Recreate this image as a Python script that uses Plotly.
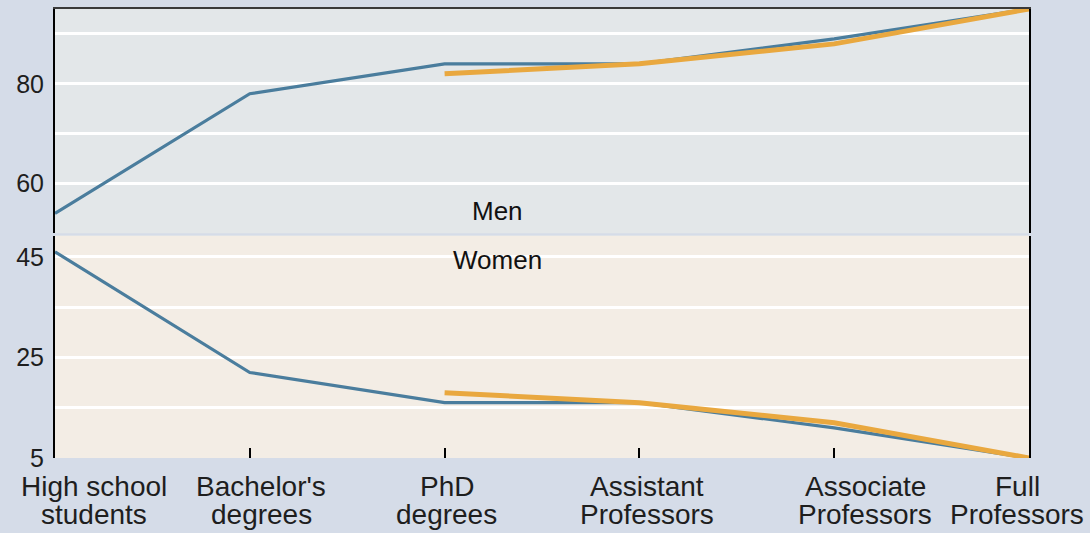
import plotly.graph_objects as go

categories = ["High school<br>students", "Bachelor's<br>degrees", "PhD<br>degrees",
              "Assistant<br>Professors", "Associate<br>Professors", "Full<br>Professors"]
x_all = [0, 1, 2, 3, 4, 5]
men_all = [54, 78, 84, 84, 89, 95]
women_all = [46, 22, 16, 16, 11, 5]
x_fac = [2, 3, 4, 5]
men_fac = [82, 84, 88, 95]
women_fac = [18, 16, 12, 5]

top_ticks = [50, 60, 70, 80, 90]
top_text = ["", "60", "", "80", ""]
bot_ticks = [5, 15, 25, 35, 45]
bot_text = ["5", "", "25", "", "45"]

BLUE = "#4a7d9d"
ORANGE = "#e9a83f"
FONT = "Liberation Sans, Arial, sans-serif"
TXT = "#1e1e1e"

fig = go.Figure()
# top panel (men)
fig.add_trace(go.Scatter(x=x_all, y=men_all, mode="lines", line=dict(color=BLUE, width=3.2),
                         xaxis="x2", yaxis="y2", showlegend=False))
fig.add_trace(go.Scatter(x=x_fac, y=men_fac, mode="lines", line=dict(color=ORANGE, width=5),
                         xaxis="x2", yaxis="y2", showlegend=False))
# bottom panel (women)
fig.add_trace(go.Scatter(x=x_all, y=women_all, mode="lines", line=dict(color=BLUE, width=3.2),
                         xaxis="x", yaxis="y", showlegend=False))
fig.add_trace(go.Scatter(x=x_fac, y=women_fac, mode="lines", line=dict(color=ORANGE, width=5),
                         xaxis="x", yaxis="y", showlegend=False))

# category labels (two tight lines each), shifted as in the original layout
label_offsets = [0.20, 0.06, 0.01, 0.04, 0.16, -0.06]
annotations = []
for xi, cat, off in zip(x_all, categories, label_offsets):
    lines = cat.split("<br>")
    for k, ln in enumerate(lines):
        annotations.append(dict(text=ln, x=xi + off, xref="x", y=0, yref="paper",
                                yanchor="middle", yshift=-28 - 28 * k, showarrow=False,
                                font=dict(size=28, color=TXT)))
annotations += [
    dict(text="Men", x=2.27, y=54.5, xref="x2", yref="y2", showarrow=False,
         font=dict(size=26, color="#111")),
    dict(text="Women", x=2.27, y=44.3, xref="x", yref="y", showarrow=False,
         font=dict(size=26, color="#111")),
]

fig.update_layout(
    width=1090, height=533,
    margin=dict(l=55, r=61, t=9, b=75),
    paper_bgcolor="#d5dce8",
    plot_bgcolor="#e3e7e9",
    font=dict(family=FONT, size=25, color=TXT),
    xaxis=dict(domain=[0, 1], anchor="y", range=[0, 5], tickvals=x_all,
               showticklabels=False,
               showgrid=False, zeroline=False, showline=False,
               ticks="inside", ticklen=10, tickwidth=2, tickcolor="#000"),
    xaxis2=dict(domain=[0, 1], anchor="y2", range=[0, 5], side="top", showgrid=False,
                zeroline=False, showline=True, linecolor="#3a3a3a", linewidth=2,
                showticklabels=False, ticks=""),
    yaxis=dict(domain=[0, 0.495], range=[5, 49.2], tickvals=bot_ticks, ticktext=bot_text,
               showgrid=True, gridcolor="#ffffff", gridwidth=2.5, zeroline=False,
               showline=True, linecolor="#000", linewidth=2, mirror=True, ticks="",
               tickfont=dict(size=25), ticklabelstandoff=4),
    yaxis2=dict(domain=[0.5004, 1], range=[50, 95], tickvals=top_ticks, ticktext=top_text,
                showgrid=True, gridcolor="#ffffff", gridwidth=2.5, zeroline=False,
                showline=True, linecolor="#000", linewidth=2, mirror=True, ticks="",
                tickfont=dict(size=25), ticklabelstandoff=4),
    shapes=[dict(type="rect", xref="x domain", yref="y domain", x0=0, x1=1, y0=0, y1=1,
                 fillcolor="#f3ede5", line=dict(width=0), layer="below")],
    annotations=annotations,
)

fig.write_html("out.html", config={"displayModeBar": False},
               post_script="document.body.style.margin='0px';document.body.style.padding='0px';")
